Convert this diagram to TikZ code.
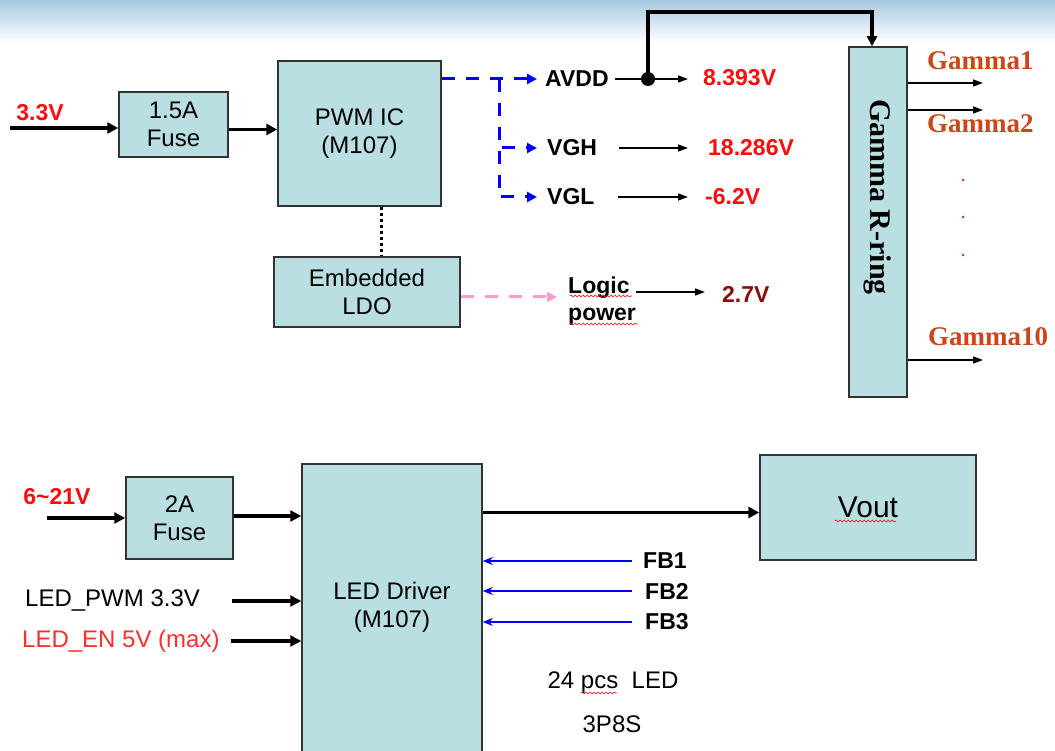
\documentclass[tikz,border=0pt]{standalone}
\usepackage{fontspec}
\setmainfont{Liberation Sans}
\newfontfamily\timesb{Liberation Serif}
\usetikzlibrary{arrows.meta, calc, decorations.pathmorphing}

\definecolor{boxfill}{RGB}{186,223,226}
\definecolor{valred}{RGB}{255,10,10}
\definecolor{enred}{RGB}{255,45,45}
\definecolor{maroon}{RGB}{145,10,10}
\definecolor{gamcol}{RGB}{205,70,25}
\definecolor{pinkln}{RGB}{255,155,205}
\definecolor{banner}{RGB}{165,200,225}

\newcommand\boxfont{\fontsize{24}{28}\selectfont}
\newcommand\sigfont{\fontsize{23}{27}\selectfont\bfseries}
\newcommand\gamfont{\timesb\bfseries\fontsize{30}{34}\selectfont}
\newcommand\gamoutfont{\timesb\bfseries\fontsize{27}{31}\selectfont}
\newcommand\voutfont{\fontsize{30}{34}\selectfont}

\tikzset{
	blk/.style={draw=black!80, line width=1.5pt, fill=boxfill, align=center, inner sep=0pt, font=\boxfont},
	txt/.style={inner sep=0pt, font=\boxfont},
	sig/.style={inner sep=0pt, font=\sigfont},
	vlbl/.style={sig, text=valred},
	gamtxt/.style={inner sep=0pt, font=\gamfont},
	gamout/.style={inner sep=0pt, font=\gamoutfont, text=gamcol, anchor=west},
	thk/.style={line width=3.8pt, -{Triangle[length=11pt,width=11pt]}},
	thn/.style={line width=1.4pt, -{Triangle[length=10pt,width=7pt]}},
	bdash/.style={blue, line width=3pt, dash pattern=on 13pt off 11pt, -{Triangle[length=10pt,width=10pt]}},
	pdash/.style={pinkln, line width=3pt, dash pattern=on 13pt off 11pt, -{Triangle[length=10pt,width=10pt]}},
	dotln/.style={line width=3pt, dash pattern=on 3pt off 3pt},
	fbarr/.style={blue, line width=1.4pt, -{Stealth[length=10pt,width=8pt]}},
	bus/.style={line width=3.5pt, -{Triangle[length=10pt,width=10pt]}},
	jdot/.style={circle, fill=black, inner sep=0pt, minimum size=14pt},
	gdot/.style={circle, fill=gamcol, inner sep=0pt, minimum size=3pt},
	wavy/.style={red, line width=0.6pt, decorate, decoration={snake, segment length=4pt, amplitude=1pt}},
}

\begin{document}
\begin{tikzpicture}[x=1pt, y=-1pt]
	\useasboundingbox (0,0) rectangle (1055,751);
	%banner
	\shade[top color=banner, bottom color=white] (0,0) rectangle (1055,42);

	%boxes
	\node[blk, minimum width=109pt, minimum height=65pt] (fuseA) at (173.5,124.5) {1.5A\\Fuse};
	\node[blk, minimum width=163pt, minimum height=145pt] (pwm) at (359.5,133.5) {PWM IC\\(M107)};
	\node[blk, minimum width=186pt, minimum height=70pt] (ldo) at (367,292) {Embedded\\LDO};
	\node[blk, minimum width=58pt, minimum height=350pt] (gam) at (878,222) {};
	\node[gamtxt, rotate=-90] (gtitle) at ([yshift=25pt]gam.center) {Gamma R-ring};
	\node[blk, minimum width=107pt, minimum height=82pt] (fuseB) at (179.5,518) {2A\\Fuse};
	\node[blk, minimum width=180pt, minimum height=310pt,
		label={[txt, align=center, yshift=11.5pt]center:{LED Driver\\(M107)}}] (drv) at (392,619) {};
	\node[blk, minimum width=216pt, minimum height=105pt, font=\voutfont] (vout) at (868,507.5) {Vout};

	%top labels
	\node[vlbl] (v33) at (40,113) {3.3V};
	\node[sig, anchor=west] (avdd) at (545,79) {AVDD};
	\node[sig, anchor=west] (vgh) at (547,148) {VGH};
	\node[sig, anchor=west] (vgl) at (547,197) {VGL};
	\node[vlbl, anchor=west] (v8) at (703,78) {8.393V};
	\node[vlbl, anchor=west] (v18) at (708,148) {18.286V};
	\node[vlbl, anchor=west] (v62) at (705,197) {-6.2V};
	\node[sig, anchor=west, align=left] (logic) at (568,301) {Logic\\power};
	\node[sig, text=maroon, anchor=west] (v27) at (722,294) {2.7V};
	\node[gamout] (gl1) at (927,61) {Gamma1};
	\node[gamout] (gl2) at (927,124) {Gamma2};
	\node[gamout] (gl10) at (928,337) {Gamma10};
	\foreach \n/\y in {1/180, 2/217, 3/255}
		\node[gdot] (gd\n) at (963,\y) {};

	%top lines
	\coordinate (in33) at (10,128);
	\draw[thk] (in33) -- (in33 -| fuseA.west);
	\draw[thk] ([yshift=-5pt]fuseA.east) -- ([yshift=-5pt]fuseA.east -| pwm.west);
	\draw[dotln] ([xshift=21.5pt]pwm.south) -- ([xshift=21.5pt]pwm.south |- ldo.north);
	\coordinate (bsplit) at (499,79);
	\draw[bdash, shorten >=8pt] (pwm.east |- avdd.west) -- (avdd.west);
	\draw[bdash, shorten >=10pt] (bsplit) |- (vgh.west);
	\draw[bdash, shorten >=10pt] (bsplit) |- (vgl.west);
	\draw[thn, shorten <=6pt, shorten >=15pt] (avdd.east) -- (v8.west |- avdd.east);
	\draw[thn, shorten <=22pt, shorten >=20pt] (vgh.east) -- (v18.west);
	\draw[thn, shorten <=23pt, shorten >=17pt] (vgl.east) -- (v62.west);
	\node[jdot] (jn) at (648,79) {};
	\coordinate (tp) at (648,12);
	\draw[bus] (jn.center) -- (tp) -| ([xshift=-6pt]gam.north);
	\draw[pdash, shorten >=11pt] ([yshift=-5pt]ldo.east) -- ([yshift=-5pt]ldo.east -| logic.west);
	\draw[thn, shorten >=17pt] ([yshift=9pt]logic.east) -- ([yshift=9pt]logic.east -| v27.west);
	\foreach \n/\y in {1/83, 2/110, 10/360}{
		\coordinate (go\n) at (983,\y);
		\draw[thn] (gam.east |- go\n) -- (go\n);
	}

	%bottom labels
	\node[vlbl] (v621) at (57,497) {6\textasciitilde21V};
	\node[txt, anchor=west] (ledpwm) at (25,601) {LED\_PWM 3.3V};
	\node[txt, text=enred, anchor=west] (leden) at (22,641) {LED\_EN 5V (max)};
	\node[sig, anchor=west] (fb1) at (643,561) {FB1};
	\node[sig, anchor=west] (fb2) at (645,591) {FB2};
	\node[sig, anchor=west] (fb3) at (645,622) {FB3};
	\node[txt] (npcs) at (613,683) {24 pcs\ \ LED};
	\node[txt] (nled) at (612,724) {3P8S};

	%bottom lines
	\coordinate (in621) at (47,518);
	\draw[thk] (in621) -- (in621 -| fuseB.west);
	\draw[thk] ([yshift=2pt]fuseB.east) -- ([yshift=2pt]fuseB.east -| drv.west);
	\draw[thk, shorten <=32pt] (ledpwm.east) -- (ledpwm.east -| drv.west);
	\draw[thk, shorten <=11pt] (leden.east) -- (leden.east -| drv.west);
	\draw[thk] ([yshift=-5pt]vout.west -| drv.east) -- ([yshift=-5pt]vout.west);
	\draw[fbarr, shorten <=11pt] (fb1.west) -- (fb1.west -| drv.east);
	\draw[fbarr, shorten <=13pt] (fb2.west) -- (fb2.west -| drv.east);
	\draw[fbarr, shorten <=13pt] (fb3.west) -- (fb3.west -| drv.east);

	%spelling marks
	\draw[wavy] (570,296) -- (632,296);
	\draw[wavy] (570,324) -- (637,324);
	\draw[wavy] (581,693) -- (617,693);
	\draw[wavy] (835,521) -- (896,521);
\end{tikzpicture}
\end{document}
